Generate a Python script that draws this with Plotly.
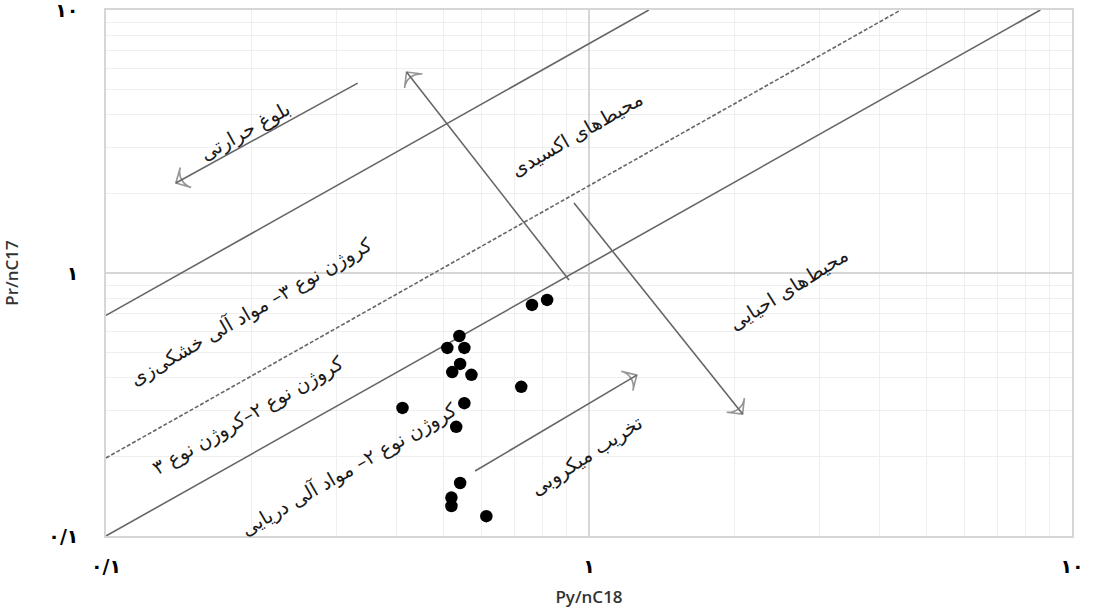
import numpy as np
import plotly.graph_objects as go

# ---- data ----
py_nc18 = [0.762, 0.819, 0.539, 0.509, 0.552, 0.541, 0.521, 0.571, 0.724, 0.552, 0.411, 0.531, 0.541, 0.519, 0.519, 0.613]
pr_nc17 = [0.756, 0.790, 0.576, 0.519, 0.519, 0.451, 0.420, 0.410, 0.369, 0.320, 0.307, 0.260, 0.159, 0.140, 0.130, 0.119]

# boundary lines (x0, y0, x1, y1) in data units
boundary_upper = [0.1, 0.69, 1.33, 10]
boundary_dashed = [0.1, 0.198, 4.42, 10]
boundary_lower = [0.1, 0.1, 8.6, 10]

# arrows: (x_start, y_start, x_end, y_end)
arrow_maturity = [0.332, 5.27, 0.1395, 2.20]
arrow_oxic = [0.909, 0.94, 0.419, 5.81]
arrow_reducing = [0.931, 1.846, 2.08, 0.291]
arrow_microbial = [0.581, 0.1766, 1.256, 0.409]

label_texts = [
    "بلوغ حرارتی",
    "محیط‌های اکسیدی",
    "کروژن نوع ۳– مواد آلی خشکی‌زی",
    "کروژن نوع ۲–کروژن نوع ۳",
    "کروژن نوع ۲– مواد آلی دریایی",
    "تخریب میکروبی",
    "محیط‌های احیایی",
]
label_x = [0.194, 0.945, 0.200, 0.197, 0.318, 0.99, 2.59]
label_y = [3.44, 3.35, 0.717, 0.286, 0.18, 0.203, 0.862]
label_angle = [-29, -30, -30, -30, -30, -33, -32]

tick_vals = [0.1, 1, 10]
tick_text = ["۰/۱", "۱", "۱۰"]
minor_vals = [v * m for v in [0.1, 1] for m in range(2, 10)]

LINE = "#666666"

fig = go.Figure()

for seg, dash in [(boundary_upper, "solid"), (boundary_dashed, "4px,2px"), (boundary_lower, "solid")]:
    fig.add_trace(go.Scatter(x=[seg[0], seg[2]], y=[seg[1], seg[3]], mode="lines",
                             line=dict(color=LINE, width=1.6, dash=dash),
                             hoverinfo="skip", showlegend=False))

for a in [arrow_maturity, arrow_oxic, arrow_reducing, arrow_microbial]:
    fig.add_trace(go.Scatter(x=[a[0], a[2]], y=[a[1], a[3]], mode="lines+markers",
                             line=dict(color=LINE, width=1.6),
                             marker=dict(symbol=["circle", "arrow-wide-open"], size=[0, 16],
                                         angleref="previous", color=LINE,
                                         line=dict(color=LINE, width=1.6)),
                             hoverinfo="skip", showlegend=False))

fig.add_trace(go.Scatter(x=py_nc18, y=pr_nc17, mode="markers",
                         marker=dict(color="black", size=12.5),
                         showlegend=False))

for t, x, y, ang in zip(label_texts, label_x, label_y, label_angle):
    fig.add_annotation(x=np.log10(x), y=np.log10(y), text=t, textangle=ang,
                       showarrow=False, font=dict(family="DejaVu Sans", size=19.5, color="#1a1a1a"))

axis_common = dict(
    type="log", tickvals=tick_vals, ticktext=tick_text,
    showgrid=True, gridcolor="#d6d6d6", gridwidth=1.5,
    showline=True, mirror=True, linecolor="#d6d6d6", linewidth=1.5,
    ticks="", zeroline=False, automargin=False, ticklabeloverflow="allow",
    tickfont=dict(family="DejaVu Sans", size=19, color="black", weight="bold"),
    minor=dict(tickvals=minor_vals, showgrid=True, gridcolor="#efefef", gridwidth=1),
)

fig.update_xaxes(range=[-1, 1], title=dict(text="Py/nC18", font=dict(family="Open Sans", size=17, color="#333", weight=600), standoff=16),
                 ticklabelstandoff=12, **axis_common)
fig.update_yaxes(range=[-1, 1], title=dict(text="Pr/nC17", font=dict(family="Open Sans", size=17, color="#333", weight=600), standoff=30),
                 ticklabelstandoff=22, **axis_common)

fig.update_layout(width=1093, height=612, margin=dict(l=106, r=21, t=10, b=76),
                  plot_bgcolor="white", paper_bgcolor="white", showlegend=False)

fig.write_html("out.html")
